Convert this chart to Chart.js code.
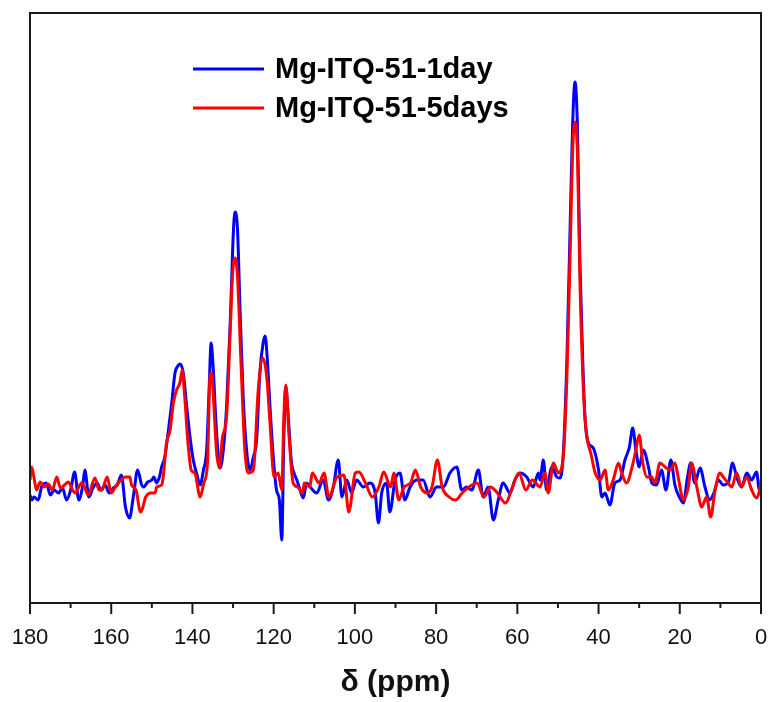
<!DOCTYPE html>
<html>
<head>
<meta charset="utf-8">
<script src="https://cdn.jsdelivr.net/npm/chart.js@4.4.0/dist/chart.umd.min.js"></script>
<style>
  html, body { margin: 0; padding: 0; background: #fff; }
  #wrap { width: 772px; height: 702px; }
</style>
</head>
<body>
<div id="wrap"><canvas id="nmrChart" width="772" height="702"></canvas></div>
<script>
const seriesNames = ['Mg-ITQ-51-1day', 'Mg-ITQ-51-5days'];
const seriesColors = ['#0000ff', '#ff0000'];
const xTicks = [180, 160, 140, 120, 100, 80, 60, 40, 20, 0];

// chemical shift (ppm) and intensity
const ppm1day = [
  180, 179.5, 179, 178, 177, 176, 175, 174, 173, 172, 171, 170, 169, 168, 167, 166.5, 165.5, 164.5, 163.5, 162.5,
  161.5, 160.5, 159.5, 158.5, 157.5, 156.5, 155.5, 154.5, 153.5, 152.5, 152, 151, 150, 149.5, 148.8, 148, 147.6, 146.8, 145.9, 145.1,
  144.3, 143.6, 143.1, 142.3, 141.4, 140.6, 139.8, 139, 138.1, 137.3, 136.5, 135.9, 135.4, 134.9, 134.2, 133.6, 133.2, 132.4, 131.6, 130.7,
  129.9, 129.5, 128.9, 128.3, 127.5, 126.6, 125.8, 125, 124.2, 123.4, 122.6, 122.1, 121.6, 120.9, 120.1, 119.3, 118.6, 118, 117.5, 117,
  116.4, 115.6, 115, 114.3, 113.5, 112.7, 111.9, 111, 109.4, 107.8, 106.5, 105.3, 104.1, 103.2, 102, 100.8, 99.6, 97.9, 96.3, 95,
  94.2, 93.4, 92.2, 91.4, 90.1, 88.9, 87.7, 86.4, 84.8, 83.2, 81.5, 79.9, 78.2, 76.6, 74.9, 73.7, 72.5, 71.2, 69.6, 68.4,
  67.2, 65.9, 64.7, 63.5, 61.8, 60.6, 59.3, 57.7, 56.1, 54.8, 54.4, 53.6, 52.8, 51.5, 50.3, 49.5, 48.7, 47.8, 47, 46.4,
  45.8, 45.2, 44.6, 43.9, 43.3, 42.5, 41.3, 40, 39.2, 38.4, 37.2, 36, 34.7, 33.5, 32.4, 31.6, 30.8, 30, 29, 27.7,
  26.9, 25.7, 24.5, 23.4, 22.2, 21.2, 20.1, 19.1, 18.1, 17.3, 16.3, 15, 13.8, 12.7, 11.6, 10.5, 9.3, 8, 7, 6,
  4.8, 3.5, 2.3, 1.1, 0.4, 0
];
const int1day = [
  -10, -15, -12, -15, 0, 2, -10, -5, -8, -3, -15, -5, 13, -15, 0, 15, -12, -3, 2, -5,
  0, -8, -3, 0, 10, -22, -33, -10, 15, 0, -2, 3, 5, 8, 2, 10, 18, 28, 55, 82,
  112, 119, 121, 113, 78, 48, 25, 12, 0, 15, 35, 95, 142, 118, 62, 28, 17, 35, 78, 162,
  255, 273, 255, 178, 88, 32, 15, 28, 45, 112, 142, 149, 128, 78, 28, -5, -15, -55, 45, 98,
  68, 22, 12, 5, -5, -13, 2, -2, -8, 5, -15, -2, 25, -12, 5, -8, 5, -2, 2, -8,
  -38, -8, 2, -27, 5, 12, -15, -2, 5, 5, -12, -2, -2, 12, 18, -5, -2, -5, 15, -12,
  -2, -35, -15, 2, -8, 5, 12, 8, -2, 12, 5, 25, -5, 18, 8, 7, 30, 125, 258, 358,
  403, 358, 225, 125, 65, 42, 37, 15, -12, -8, -20, 2, 5, 25, 38, 57, 35, 18, 35, 18,
  2, 0, 15, -5, 25, 0, -12, -18, 8, 22, 2, 17, -2, -15, -8, 5, 0, 3, 22, 8,
  -2, 12, 5, 13, -5, 0
];

const ppm5days = [
  180, 179.6, 179, 178.4, 177.5, 176.5, 175.5, 174.5, 173.4, 172.5, 171.5, 170.6, 169.5, 168.9, 167.3, 166.5, 165.7, 164, 163, 162.3,
  161, 160, 159, 158.3, 157.5, 156.6, 155.4, 155, 153.9, 153, 152.7, 151.5, 150.3, 149.2, 148.8, 147.6, 147.2, 146.4, 145.5, 144.7,
  143.9, 143.1, 142.5, 141.9, 141.1, 140.3, 139.4, 138.1, 137.2, 136.3, 135.7, 135.3, 134.7, 134.1, 133.4, 132.6, 131.6, 130.7, 130.1, 129.5,
  128.9, 128.1, 127.1, 126.2, 125, 123.8, 122.7, 121.7, 120.9, 119.9, 118.9, 118, 117.5, 117, 116.2, 115.2, 114.1, 112.8, 112.5, 111.1,
  110.5, 108.8, 107.6, 106.4, 104.4, 102.7, 101.5, 99.9, 99, 97.4, 95.7, 94.1, 92.9, 91.2, 90.4, 89.2, 87.9, 86.3, 85.1, 83.8,
  82.2, 81, 79.7, 78.5, 76.8, 75.2, 73.6, 71.9, 69.9, 68.2, 66.6, 64.9, 62.9, 61.2, 59.6, 57.9, 56.3, 54.4, 53.2, 52.4,
  51.1, 49.9, 48.7, 47.8, 47, 46.4, 45.8, 45.2, 44.6, 43.7, 43, 41.8, 40.9, 39.6, 38.4, 37.6, 36.4, 35.1, 34.3, 33.1,
  31.8, 30.8, 30, 29.1, 28.1, 26.9, 26.1, 24.9, 23.6, 22.4, 21.2, 20.4, 19.1, 17.9, 17.1, 15.8, 14.6, 13.4, 12.4, 11.3,
  10.1, 9.3, 8.3, 7.2, 6, 4.8, 3.5, 2.3, 1.1, 0.2, 0
];
const int5days = [
  5, 18, 7, -5, 3, -2, 1, -5, 8, -3, 0, 3, -5, -8, 2, -3, -10, 7, -5, -5,
  8, -8, -2, 2, 5, 8, 8, 0, -5, -25, -27, -12, -8, -8, -2, 0, 8, 42, 55, 82,
  95, 102, 115, 88, 42, 15, 12, -12, 2, 22, 108, 112, 78, 35, 17, 48, 68, 155, 212, 227,
  208, 128, 35, 12, 15, 95, 127, 108, 62, 8, 12, -5, 68, 100, 48, 2, -2, -8, 2, -2,
  12, 2, 12, -12, 8, 10, -27, 12, 13, 2, -12, -2, 13, -2, 12, -15, -2, 2, 15, -2,
  -8, -2, 25, -2, -12, -15, -8, -2, 2, -12, -2, -8, -18, -2, 12, -5, 5, -2, 12, -8,
  22, 12, 28, 108, 232, 332, 363, 332, 208, 92, 52, 30, 13, 5, 15, -5, 5, 22, 12, 2,
  17, 35, 50, 22, 8, 8, 2, 22, 18, 15, 22, 8, -15, -2, 22, -2, -22, -12, -32, -5,
  12, 8, 3, -2, 12, -2, 8, -5, -13, -2, 5
];

const toPoints = (xs, ys) => xs.map((x, i) => ({ x: x, y: ys[i] }));

const FONT = '"Liberation Sans", Arial, sans-serif';

// frame, outward ticks (major/minor) and legend
const decorations = {
  id: 'decorations',
  afterDraw(chart) {
    const ctx = chart.ctx;
    const area = chart.chartArea;
    const xs = chart.scales.x;
    ctx.save();
    ctx.strokeStyle = '#1a1a1a';
    ctx.lineWidth = 2;
    ctx.strokeRect(area.left, area.top, area.right - area.left, area.bottom - area.top);
    for (let v = 0; v <= 180; v += 10) {
      const px = xs.getPixelForValue(v);
      const len = v % 20 === 0 ? 11 : 5;
      ctx.beginPath();
      ctx.moveTo(px, area.bottom);
      ctx.lineTo(px, area.bottom + len);
      ctx.stroke();
    }
    // legend
    ctx.font = 'bold 29px ' + FONT;
    ctx.textBaseline = 'middle';
    ctx.fillStyle = '#000';
    chart.data.datasets.forEach((ds, i) => {
      const y = 69 + i * 39;
      ctx.strokeStyle = ds.borderColor;
      ctx.lineWidth = 3;
      ctx.beginPath();
      ctx.moveTo(193, y);
      ctx.lineTo(264, y);
      ctx.stroke();
      ctx.fillText(ds.label, 275, y + 1);
    });
    ctx.restore();
  }
};

new Chart(document.getElementById('nmrChart'), {
  type: 'line',
  data: {
    datasets: [
      {
        label: seriesNames[0],
        data: toPoints(ppm1day, int1day),
        borderColor: seriesColors[0],
        borderWidth: 3,
        pointRadius: 0,
        cubicInterpolationMode: 'monotone',
        order: 1
      },
      {
        label: seriesNames[1],
        data: toPoints(ppm5days, int5days),
        borderColor: seriesColors[1],
        borderWidth: 3,
        pointRadius: 0,
        cubicInterpolationMode: 'monotone',
        order: 0
      }
    ]
  },
  options: {
    responsive: false,
    animation: false,
    layout: { padding: { left: 30, right: 11, top: 13, bottom: 0 } },
    plugins: {
      legend: { display: false },
      tooltip: { enabled: false }
    },
    scales: {
      x: {
        type: 'linear',
        reverse: true,
        min: 0,
        max: 180,
        grid: { display: false, drawTicks: false },
        border: { display: false },
        afterBuildTicks: (scale) => {
          scale.ticks = xTicks.map(v => ({ value: v }));
        },
        afterFit: (scale) => {
          scale.height = 99;
          scale.paddingLeft = 0;
          scale.paddingRight = 0;
        },
        ticks: {
          autoSkip: false,
          maxRotation: 0,
          padding: 22,
          color: '#111',
          font: { family: FONT, size: 22 }
        },
        title: {
          display: true,
          text: 'δ (ppm)',
          color: '#111',
          font: { family: FONT, size: 30, weight: 'bold' },
          padding: { top: 0, bottom: 1 }
        }
      },
      y: {
        display: false,
        min: -118,
        max: 472
      }
    }
  },
  plugins: [decorations]
});
</script>
</body>
</html>
